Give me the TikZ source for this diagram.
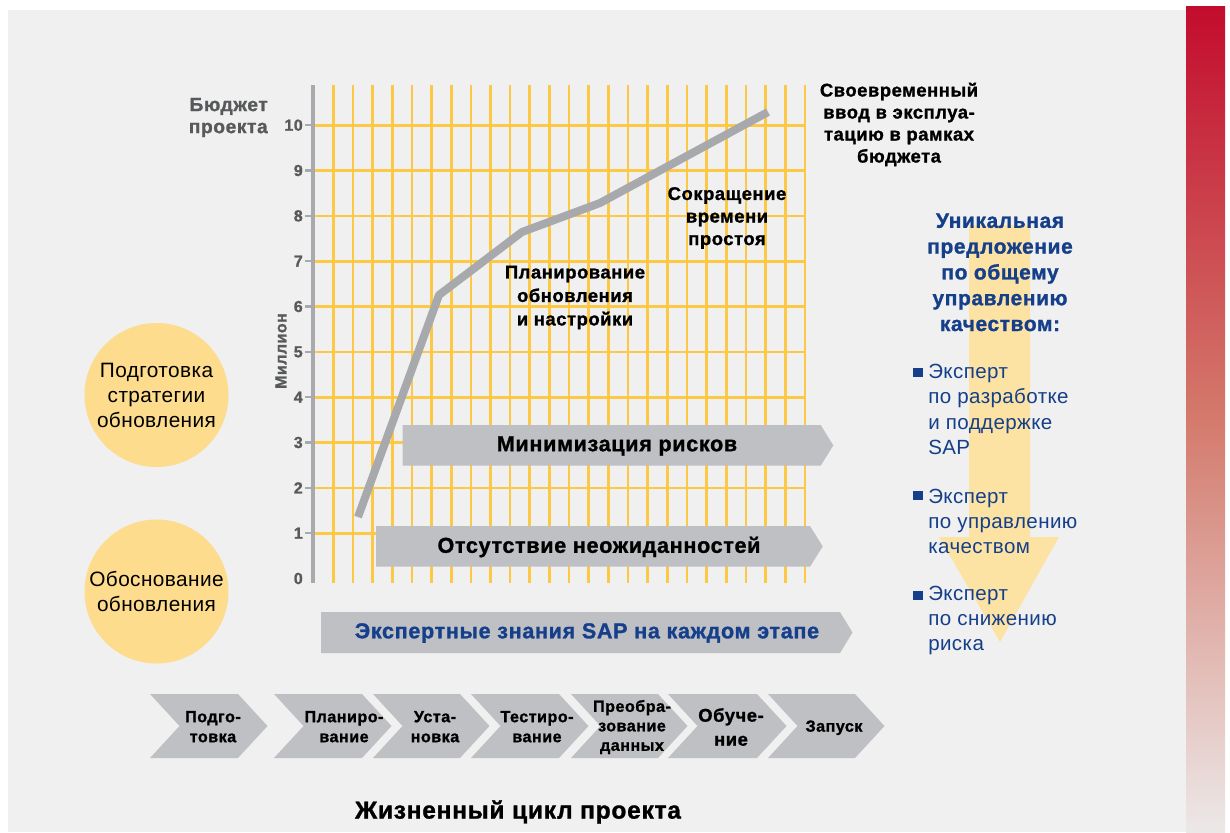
\documentclass[tikz,border=0pt]{standalone}
\usepackage{fontspec}
\setmainfont{Liberation Sans}[LetterSpace=3, BoldFeatures={FakeBold=1.2}]
\newfontfamily\regfont{Liberation Sans}[LetterSpace=2]
\definecolor{bg}{HTML}{EFF0EF}
\definecolor{gridy}{HTML}{FDC845}
\definecolor{axisg}{HTML}{A7A9AC}
\definecolor{bargray}{HTML}{BFC0C3}
\definecolor{circy}{HTML}{FDDC8E}
\definecolor{arrowy}{HTML}{FDE3A3}
\definecolor{darkg}{HTML}{58595B}
\definecolor{sapblue}{HTML}{153F8A}
\definecolor{redtop}{HTML}{C30C2D}
\definecolor{redmid}{HTML}{D47A6C}
\definecolor{redbot}{HTML}{ECE8E8}
\begin{document}
\begin{tikzpicture}[x=0.75pt,y=-0.75pt,
  gridline/.style={draw=gridy, line width=2pt},
  tickline/.style={draw=axisg, line width=1.6pt},
  numlbl/.style={font=\bfseries\fontsize{12}{14}\selectfont, text=darkg, inner sep=0pt, anchor=east},
  lbl/.style={font=\bfseries\fontsize{13.8}{16.5}\selectfont, align=center, inner sep=0pt},
  bannertext/.style={font=\bfseries\fontsize{16.2}{19}\selectfont, inner sep=0pt},
  chevtext/.style={font=\bfseries\fontsize{12.1}{15}\selectfont, align=center, inner sep=0pt},
  circ/.style={circle, fill=circy, minimum size=108pt, inner sep=0pt, align=center, font=\regfont\fontsize{15.6}{18.75}\selectfont},
  bluetext/.style={text=sapblue, inner sep=0pt},
  bulletsq/.style={fill=sapblue, inner sep=0pt, minimum width=7.5pt, minimum height=7pt}
]
\useasboundingbox (0,0) rectangle (1230,832);
% background
\fill[white] (0,0) rectangle (1230,832);
\fill[bg] (8,10) rectangle (1186,832);
\shade[top color=redtop, bottom color=redbot, middle color=redmid] (1186,6) rectangle (1225,832);

% grid
\foreach \i in {0,...,24} \draw[gridline] ({333.3+19.65*\i},85) -- ({333.3+19.65*\i},583);
\foreach \v in {1,...,10} {
  \draw[gridline] (313,{578.5-45.33*\v}) -- (805,{578.5-45.33*\v});
  \draw[tickline] (305,{578.5-45.33*\v}) -- (313,{578.5-45.33*\v});
}
\draw[draw=axisg, line width=2.5pt] (313,85) -- (313,583);
\foreach \v in {0,...,10} \node[numlbl] (n\v) at (303,{578.5-45.33*\v}) {\v};

\node[font=\bfseries\fontsize{14.4}{16.5}\selectfont, text=darkg, align=right, anchor=east, inner sep=0pt] (budget) at (268,117.5) {Бюджет\\проекта};
\node[font=\bfseries\fontsize{12}{14}\selectfont, text=darkg, rotate=90, inner sep=0pt] (mln) at (281,351) {Миллион};

% banners
\fill[bargray] (402.7,425) -- (820.7,425) -- (833.3,445.4) -- (820.7,465.7) -- (402.7,465.7) -- cycle;
\node[bannertext] (risk) at (617,446) {Минимизация рисков};
\fill[bargray] (376,526) -- (810,526) -- (822.7,546.4) -- (810,566.7) -- (376,566.7) -- cycle;
\node[bannertext] (nosurp) at (599,547) {Отсутствие неожиданностей};
\fill[bargray] (321,612) -- (840,612) -- (852.5,632.5) -- (840,653) -- (321,653) -- cycle;
\node[bannertext, text=sapblue] (sapexp) at (587,633) {Экспертные знания SAP на каждом этапе};

% trend line
\coordinate (p1) at (358,517);
\coordinate (p2) at (439,295);
\coordinate (p3) at (522,232);
\coordinate (p4) at (600,203);
\coordinate (p5) at (768,112);
\draw[draw=axisg, line width=6pt, line join=round] (p1) -- (p2) -- (p3) -- (p4) -- (p5);

% chart labels
\node[lbl, font=\bfseries\fontsize{13.8}{17.6}\selectfont] (plan) at (575,297.5) {Планирование\\обновления\\и настройки};
\node[lbl, font=\bfseries\fontsize{13.8}{16.9}\selectfont] (down) at (727,218) {Сокращение\\времени\\простоя};
\node[lbl] (ontime) at (899,124.5) {Своевременный\\ввод в эксплуа-\\тацию в рамках\\бюджета};

% circles
\node[circ] (c1) at (156.5,395) {Подготовка\\стратегии\\обновления};
\node[circ] (c2) at (156.5,591.5) {Обоснование\\обновления};

% right arrow and text
\fill[arrowy] (969,225) -- (1030,225) -- (1030,537) -- (1059,537) -- (1000,642) -- (939,537) -- (969,537) -- cycle;
\node[bluetext, font=\bfseries\fontsize{15.7}{19.35}\selectfont, align=center] (usp) at (1000,272.3) {Уникальная\\предложение\\по общему\\управлению\\качеством:};
\node[bluetext, font=\regfont\fontsize{15.4}{18.9}\selectfont, align=left, anchor=west] (e1) at (928,409.5) {Эксперт\\по разработке\\и поддержке\\SAP};
\node[bluetext, font=\regfont\fontsize{15.4}{18.9}\selectfont, align=left, anchor=west] (e2) at (928,521.3) {Эксперт\\по управлению\\качеством};
\node[bluetext, font=\regfont\fontsize{15.4}{18.9}\selectfont, align=left, anchor=west] (e3) at (928,620.3) {Эксперт\\по снижению\\риска};
\node[bulletsq] (b1) at (918.3,372.5) {};
\node[bulletsq] (b2) at (918.3,495.5) {};
\node[bulletsq] (b3) at (918.3,595.5) {};

% chevrons
\foreach \l/\r in {150/238, 274/362, 373/460, 471/559, 571/658, 668/757, 768/855}
  \fill[bargray] (\l,694) -- (\r,694) -- ({\r+29.5},726) -- (\r,758) -- (\l,758) -- ({\l+29.5},726) -- cycle;
\node[chevtext] (s1) at (213,726.7) {Подго-\\товка};
\node[chevtext] (s2) at (344,726.7) {Планиро-\\вание};
\node[chevtext] (s3) at (435,726.7) {Уста-\\новка};
\node[chevtext] (s4) at (537,726.7) {Тестиро-\\вание};
\node[chevtext, font=\bfseries\fontsize{12.1}{14.6}\selectfont] (s5) at (632,727) {Преобра-\\зование\\данных};
\node[chevtext, font=\bfseries\fontsize{13.8}{18}\selectfont] (s6) at (731,727) {Обуче-\\ние};
\node[chevtext] (s7) at (834,727.7) {Запуск};

\node[font=\bfseries\fontsize{18.4}{20}\selectfont, inner sep=0pt] (life) at (518,812) {Жизненный цикл проекта};
\end{tikzpicture}
\end{document}
